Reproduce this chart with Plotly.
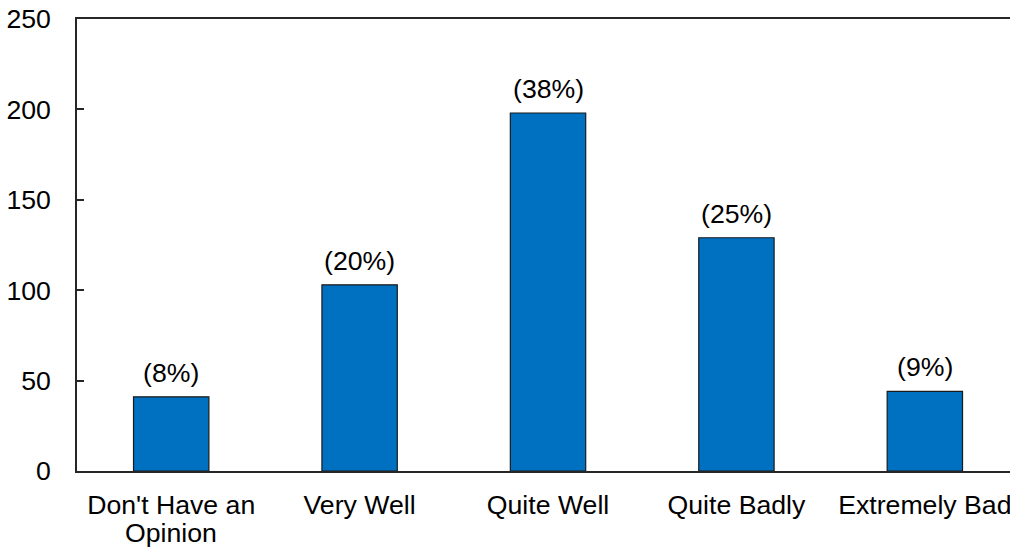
import plotly.graph_objects as go

categories = ["Don't Have an", "Very Well", "Quite Well", "Quite Badly", "Extremely Bad"]
category_second_lines = ["Opinion", "", "", "", ""]
counts = [41, 103, 198, 129, 44]
pct_labels = ["(8%)", "(20%)", "(38%)", "(25%)", "(9%)"]
y_ticks = [0, 50, 100, 150, 200, 250]

BAR_COLOR = "#0070C0"
AXIS_COLOR = "#262626"
FONT = "Liberation Sans, Arial, sans-serif"
FS = 26.67

fig = go.Figure()
fig.add_trace(go.Bar(
    x=list(range(len(categories))),
    y=counts,
    marker=dict(color=BAR_COLOR, line=dict(color="#1a1a1a", width=1.2)),
    width=0.4,
    hoverinfo="skip",
))

for i, (v, t) in enumerate(zip(counts, pct_labels)):
    fig.add_annotation(
        x=i, y=v, text=t, showarrow=False,
        xanchor="center", yanchor="bottom", yshift=7,
        font=dict(family=FONT, size=FS, color="black"),
    )

# second line of wrapped category labels (tighter line spacing than Plotly's default)
for i, t in enumerate(category_second_lines):
    if t:
        fig.add_annotation(
            x=i, y=0, text=t, showarrow=False,
            xanchor="center", yanchor="top", yshift=-45,
            font=dict(family=FONT, size=FS, color="black"),
        )

fig.update_layout(
    width=1010, height=548,
    margin=dict(l=77, r=0, t=19, b=77, pad=0),
    paper_bgcolor="white", plot_bgcolor="white",
    showlegend=False,
    font=dict(family=FONT, size=FS, color="black"),
)
fig.update_xaxes(
    range=[-0.5, 4.452],
    tickmode="array", tickvals=list(range(len(categories))), ticktext=categories,
    showline=True, linecolor=AXIS_COLOR, linewidth=1.5, mirror=True,
    ticks="", showgrid=False, zeroline=False,
    automargin=False, ticklabelstandoff=9, ticklabeloverflow="allow",
    tickfont=dict(family=FONT, size=FS, color="black"),
)
fig.update_yaxes(
    range=[0, 250],
    tickmode="array", tickvals=y_ticks,
    showline=True, linecolor=AXIS_COLOR, linewidth=1.5,
    ticks="inside", ticklen=7, tickwidth=1.5, tickcolor=AXIS_COLOR,
    showgrid=False, zeroline=False,
    automargin=False, ticklabelstandoff=19,
    tickfont=dict(family=FONT, size=FS, color="black"),
)

fig.write_html(
    "out.html",
    config={"displayModeBar": False},
    post_script="document.body.style.margin='0';document.body.style.overflow='hidden';",
)
